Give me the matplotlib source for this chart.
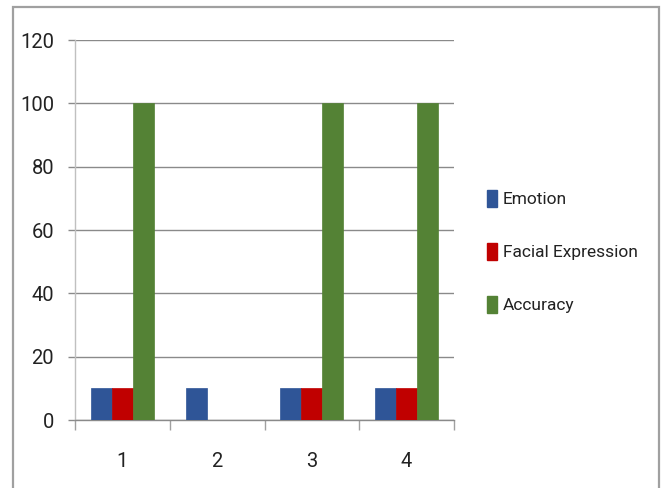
import matplotlib
matplotlib.use("Agg")
import matplotlib.pyplot as plt
from matplotlib.patches import Rectangle, Patch
import numpy as np

categories = ["1", "2", "3", "4"]
emotion = [10, 10, 10, 10]
facial_expression = [10, 0, 10, 10]
accuracy = [100, 0, 100, 100]
series_names = ["Emotion", "Facial Expression", "Accuracy"]
colors = ["#2F5597", "#C00000", "#548235"]
yticks = [0, 20, 40, 60, 80, 100, 120]

plt.rcParams['font.family'] = ['Roboto', 'DejaVu Sans']

W, H = 662, 488
fig = plt.figure(figsize=(W / 100, H / 100), dpi=100)

def px(x0, y0, x1, y1):
    return [x0 / W, 1 - y1 / H, (x1 - x0) / W, (y1 - y0) / H]

# outer chart border
fig.patches.append(Rectangle((13 / W, -0.05), (659 - 13) / W, 1.05 - 7 / H,
                             transform=fig.transFigure, fill=False,
                             edgecolor="#a0a0a0", linewidth=1.6))

ax = fig.add_axes(px(75, 40, 454, 420))
x = np.arange(1, len(categories) + 1)
bw = 0.222
data = [emotion, facial_expression, accuracy]
for i, (vals, c) in enumerate(zip(data, colors)):
    ax.bar(x + (i - 1) * bw, vals, width=bw, color=c, edgecolor=c,
           linewidth=0.5, zorder=3)

ax.set_xlim(0.5, 4.5)
ax.set_ylim(0, 120)
ax.set_yticks(yticks)
ax.set_yticklabels([str(v) for v in yticks])
ax.set_xticks(x)
ax.set_xticklabels(categories)
ax.set_xticks([0.5, 1.5, 2.5, 3.5, 4.5], minor=True)

ax.yaxis.grid(True, color="#8a8a8a", linewidth=1.0, zorder=0)
ax.set_axisbelow(True)
for s in ["top", "right"]:
    ax.spines[s].set_visible(False)
ax.spines["left"].set_color("#c0c0c0")
ax.spines["left"].set_linewidth(1.0)
ax.spines["bottom"].set_color("#8a8a8a")
ax.spines["bottom"].set_linewidth(1.0)

ax.tick_params(axis="y", direction="out", length=5, width=1.0, color="#8a8a8a",
               pad=10, labelsize=14.5, labelcolor="#222222")
ax.tick_params(axis="x", which="major", length=0, pad=23, labelsize=14.5,
               labelcolor="#222222")
ax.tick_params(axis="x", which="minor", direction="out", length=7, width=1.0,
               color="#a0a0a0")

handles = [Patch(facecolor=c, edgecolor=c) for c in colors]
fig.legend(handles, series_names, loc="upper left",
           bbox_to_anchor=(471 / W, 1 - 174 / H), frameon=False,
           handlelength=0.6, handleheight=1.15, handletextpad=0.35,
           labelspacing=2.05, fontsize=12.5, labelcolor="#222222")

fig.savefig("out.png", dpi=100)
